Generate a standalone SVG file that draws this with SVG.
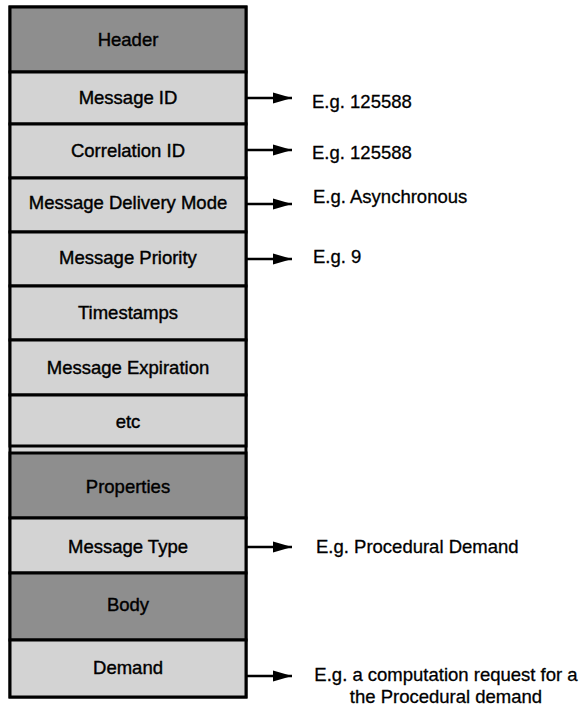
<svg xmlns="http://www.w3.org/2000/svg" width="581" height="706" viewBox="0 0 581 706">
  <style>
    .light { fill: #d3d3d3; stroke: #000; stroke-width: 3; }
    .dark { fill: #8e8e8e; stroke: #000; stroke-width: 3; }
    .lbl { font-family: "Liberation Sans", Arial, sans-serif; font-size: 18.5px; fill: #000; stroke: #000; stroke-width: 0.4; text-anchor: middle; }
    .note { font-family: "Liberation Sans", Arial, sans-serif; font-size: 18.5px; fill: #000; stroke: #000; stroke-width: 0.3; }
    .conn { stroke: #000; stroke-width: 2.5; fill: none; }
  </style>
  <defs>
    <marker id="ah" viewBox="0 0 20 12" refX="19" refY="6" markerWidth="20" markerHeight="12" markerUnits="userSpaceOnUse" orient="auto">
      <path d="M0,0.5 L19,6 L0,11.5 Z" fill="#000"/>
    </marker>
  </defs>
  <rect x="0" y="0" width="581" height="706" fill="#fff"/>
  <rect x="10" y="7" width="236" height="690" fill="#d8d8d8" stroke="#000" stroke-width="3"/>

  <g id="header"><rect class="dark" x="10" y="7" width="236" height="65"/><text class="lbl" x="128" y="46">Header</text></g>
  <g id="message-id"><rect class="light" x="10" y="72" width="236" height="52"/><text class="lbl" x="128" y="104">Message ID</text></g>
  <g id="correlation-id"><rect class="light" x="10" y="124" width="236" height="54"/><text class="lbl" x="128" y="157">Correlation ID</text></g>
  <g id="delivery-mode"><rect class="light" x="10" y="178" width="236" height="54"/><text class="lbl" x="128" y="209">Message Delivery Mode</text></g>
  <g id="priority"><rect class="light" x="10" y="232" width="236" height="54"/><text class="lbl" x="128" y="264">Message Priority</text></g>
  <g id="timestamps"><rect class="light" x="10" y="286" width="236" height="54"/><text class="lbl" x="128" y="319">Timestamps</text></g>
  <g id="expiration"><rect class="light" x="10" y="340" width="236" height="55"/><text class="lbl" x="128" y="374">Message Expiration</text></g>
  <g id="etc"><rect class="light" x="10" y="395" width="236" height="51"/><text class="lbl" x="128" y="428">etc</text></g>
  <g id="properties"><rect class="dark" x="10" y="453" width="236" height="65"/><text class="lbl" x="128" y="493">Properties</text></g>
  <g id="message-type"><rect class="light" x="10" y="518" width="236" height="55"/><text class="lbl" x="128" y="553">Message Type</text></g>
  <g id="body"><rect class="dark" x="10" y="573" width="236" height="67"/><text class="lbl" x="128" y="611">Body</text></g>
  <g id="demand"><rect class="light" x="10" y="640" width="236" height="57"/><text class="lbl" x="128" y="674">Demand</text></g>

  <g id="connectors">
    <line class="conn" x1="247" y1="98" x2="292" y2="98" marker-end="url(#ah)"/>
    <line class="conn" x1="247" y1="150" x2="292" y2="150" marker-end="url(#ah)"/>
    <line class="conn" x1="247" y1="204" x2="292" y2="204" marker-end="url(#ah)"/>
    <line class="conn" x1="247" y1="259" x2="292" y2="259" marker-end="url(#ah)"/>
    <line class="conn" x1="247" y1="547" x2="292" y2="547" marker-end="url(#ah)"/>
    <line class="conn" x1="247" y1="676" x2="292" y2="676" marker-end="url(#ah)"/>
  </g>

  <g id="notes">
    <text class="note" x="312" y="108">E.g. 125588</text>
    <text class="note" x="312" y="159">E.g. 125588</text>
    <text class="note" x="313" y="203">E.g. Asynchronous</text>
    <text class="note" x="313" y="263">E.g. 9</text>
    <text class="note" x="316" y="553">E.g. Procedural Demand</text>
    <text class="note" x="446" y="681" text-anchor="middle">E.g. a computation request for a</text>
    <text class="note" x="446" y="703" text-anchor="middle">the Procedural demand</text>
  </g>
</svg>
